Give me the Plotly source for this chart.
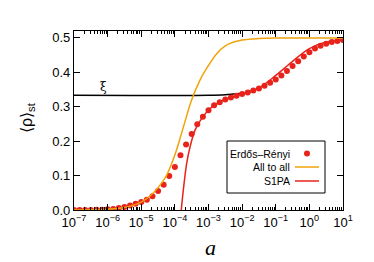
import plotly.graph_objects as go

# ---- data (log10 of a, and <rho>_st) ----
er_logs = [-7 + k / 6 for k in range(49)]
er_vals = [0.0, 0.0, 0.0, 0.0, 0.001, 0.001, 0.002, 0.003, 0.006, 0.009,
           0.013, 0.018, 0.023, 0.030, 0.040, 0.055, 0.073, 0.099, 0.125, 0.159,
           0.190, 0.221, 0.249, 0.271, 0.290, 0.304, 0.313, 0.321, 0.327, 0.332,
           0.337, 0.341, 0.347, 0.353, 0.361, 0.370, 0.379, 0.391, 0.404, 0.418,
           0.432, 0.446, 0.458, 0.469, 0.477, 0.483, 0.488, 0.491, 0.494]

a2a_logs = [-7.0, -6.5, -6.0, -5.5, -5.0, -4.75, -4.5, -4.25, -4.0, -3.75,
            -3.5, -3.25, -3.0, -2.75, -2.5, -2.25, -2.0, -1.5, -1.0, 0.0, 1.0]
a2a_vals = [0.0002, 0.0008, 0.0025, 0.0075, 0.023, 0.04, 0.065, 0.10, 0.16, 0.24,
            0.32, 0.378, 0.42, 0.455, 0.477, 0.488, 0.494, 0.498, 0.4995, 0.5, 0.5]

s1pa_logs = [-3.81, -3.75, -3.65, -3.55, -3.4, -3.2, -2.95, -2.65, -2.5, -2.0,
             -1.5, -1.0, -0.5, 0.0, 0.5, 1.0]
s1pa_vals = [0.0, 0.057, 0.135, 0.183, 0.232, 0.266, 0.295, 0.314, 0.321, 0.337,
             0.355, 0.391, 0.432, 0.469, 0.488, 0.494]

xi_logs = [-7.0, -3.0, -2.5, -2.25, -2.0, -1.83, -1.67]
xi_vals = [0.3333, 0.3334, 0.335, 0.337, 0.339, 0.341, 0.346]

x_tick_exps = [-7, -6, -5, -4, -3, -2, -1, 0, 1]
y_tick_vals = [0.0, 0.1, 0.2, 0.3, 0.4, 0.5]

legend_names = ["Erdős–Rényi", "All to all", "S1PA"]

RED = "#e8231b"
ORANGE = "#f0a30a"

def tolin(logs):
    return [10 ** v for v in logs]

fig = go.Figure()
fig.add_trace(go.Scatter(x=tolin(xi_logs), y=xi_vals, mode="lines",
                         line=dict(color="black", width=1.5, shape="spline"),
                         showlegend=False))
fig.add_trace(go.Scatter(x=tolin(er_logs), y=er_vals, mode="markers",
                         marker=dict(color=RED, size=6), name=legend_names[0],
                         showlegend=False))
fig.add_trace(go.Scatter(x=tolin(a2a_logs), y=a2a_vals, mode="lines",
                         line=dict(color=ORANGE, width=1.5, shape="spline"),
                         name=legend_names[1], showlegend=False))
fig.add_trace(go.Scatter(x=tolin(s1pa_logs), y=s1pa_vals, mode="lines",
                         line=dict(color=RED, width=1.5, shape="spline"),
                         name=legend_names[2], showlegend=False))

# page-pixel layout (page has an 8px body margin)
OFF = 8
W, H = 374 - OFF, 262 - OFF
L, R, T, B = 74, 31, 31, 52          # plot area in page pixels: 74..343, 31..210
pw, ph = 343 - 74, 210 - 31

def px(x):
    return (x - 74) / pw

def py(y):
    return (210 - y) / ph

shapes = []
annotations = []
# custom gnuplot-like legend
shapes.append(dict(type="rect", xref="paper", yref="paper",
                   x0=px(227), x1=px(325), y0=py(193), y1=py(141),
                   line=dict(color="black", width=1), fillcolor="white"))
rows = [153.5, 167, 181]
for i, name in enumerate(legend_names):
    annotations.append(dict(xref="paper", yref="paper", x=px(292), y=py(rows[i]),
                            text=name, showarrow=False, xanchor="right", yanchor="middle",
                            font=dict(size=10.5, color="black")))
r = 3
shapes.append(dict(type="circle", xref="paper", yref="paper",
                   x0=px(307 - r), x1=px(307 + r), y0=py(rows[0] + r), y1=py(rows[0] - r),
                   fillcolor=RED, line=dict(color=RED, width=0)))
shapes.append(dict(type="line", xref="paper", yref="paper",
                   x0=px(295), x1=px(319), y0=py(rows[1]), y1=py(rows[1]),
                   line=dict(color=ORANGE, width=1.5)))
shapes.append(dict(type="line", xref="paper", yref="paper",
                   x0=px(295), x1=px(319), y0=py(rows[2]), y1=py(rows[2]),
                   line=dict(color=RED, width=1.5)))

annotations.append(dict(xref="paper", yref="paper", x=px(103), y=py(87),
                        text="ξ", showarrow=False, xanchor="center", yanchor="middle",
                        font=dict(family="DejaVu Serif", size=12, color="black")))
annotations.append(dict(xref="paper", yref="paper", x=px(27), y=py(118),
                        text="⟨ρ⟩<sub>st</sub>", showarrow=False, textangle=-90,
                        xanchor="center", yanchor="middle",
                        font=dict(size=16, color="black")))
annotations.append(dict(xref="paper", yref="paper", x=px(210), y=py(247),
                        text="<i>a</i>", showarrow=False, xanchor="center", yanchor="middle",
                        font=dict(family="Liberation Serif", size=22, color="black")))

fig.update_layout(
    width=W, height=H,
    margin=dict(l=L - OFF, r=R, t=T - OFF, b=B, pad=0),
    plot_bgcolor="white", paper_bgcolor="white",
    font=dict(family="Liberation Sans, Arial, sans-serif", size=13, color="black"),
    shapes=shapes, annotations=annotations,
    showlegend=False,
)
fig.update_xaxes(type="log", range=[-7, 1],
                 tickvals=tolin(x_tick_exps),
                 ticktext=["10<sup>%d</sup>" % e if e >= 0 else "10<sup>−%d</sup>" % (-e)
                           for e in x_tick_exps],
                 showline=True, linecolor="black", linewidth=1.3, mirror="allticks",
                 ticks="inside", ticklen=6, tickcolor="black", tickwidth=1,
                 minor=dict(ticks="inside", ticklen=3, tickcolor="black", tickwidth=1,
                            dtick="D1", showgrid=False),
                 showgrid=False, zeroline=False, tickfont=dict(size=13))
fig.update_yaxes(range=[0, 0.52], tickvals=y_tick_vals,
                 tickformat=".1f",
                 showline=True, linecolor="black", linewidth=1.3, mirror="allticks",
                 ticks="inside", ticklen=6, tickcolor="black", tickwidth=1,
                 showgrid=False, zeroline=False, tickfont=dict(size=13))

fig.write_html("out.html")
